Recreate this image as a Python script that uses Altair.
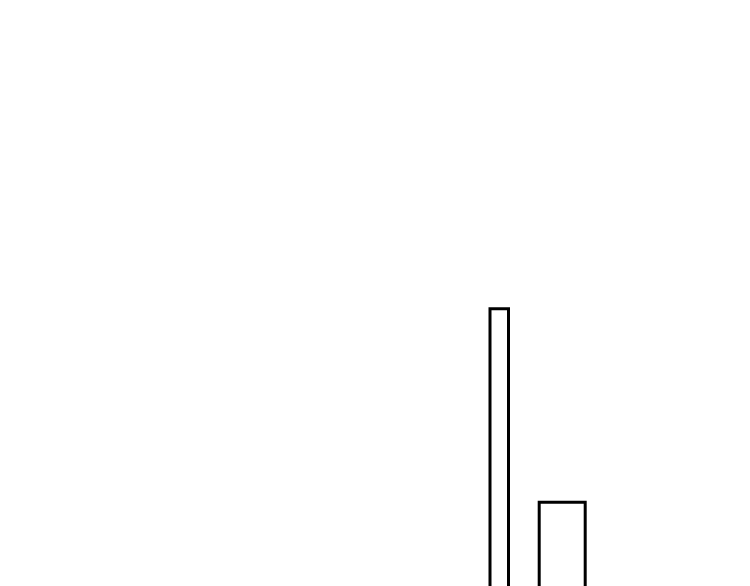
import altair as alt
import pandas as pd

# bar edges and heights (arbitrary units)
x_start = [482.0, 531.2]
x_end = [500.5, 577.2]
heights = [399.2, 205.8]

df = pd.DataFrame({"x0": x_start, "x1": x_end, "h": heights})

chart = (
    alt.Chart(df)
    .mark_rect(fill="white", stroke="black", strokeWidth=3)
    .encode(
        x=alt.X("x0:Q", axis=None, scale=alt.Scale(domain=[0, 700], nice=False, zero=False)),
        x2="x1:Q",
        y=alt.Y("h:Q", axis=None, scale=alt.Scale(domain=[0, 700], nice=False)),
        y2=alt.datum(0),
    )
    .properties(width=700, height=700, padding=0)
    .configure_view(stroke=None)
)

chart.save("out.html", embed_options={"renderer": "svg", "actions": False})
